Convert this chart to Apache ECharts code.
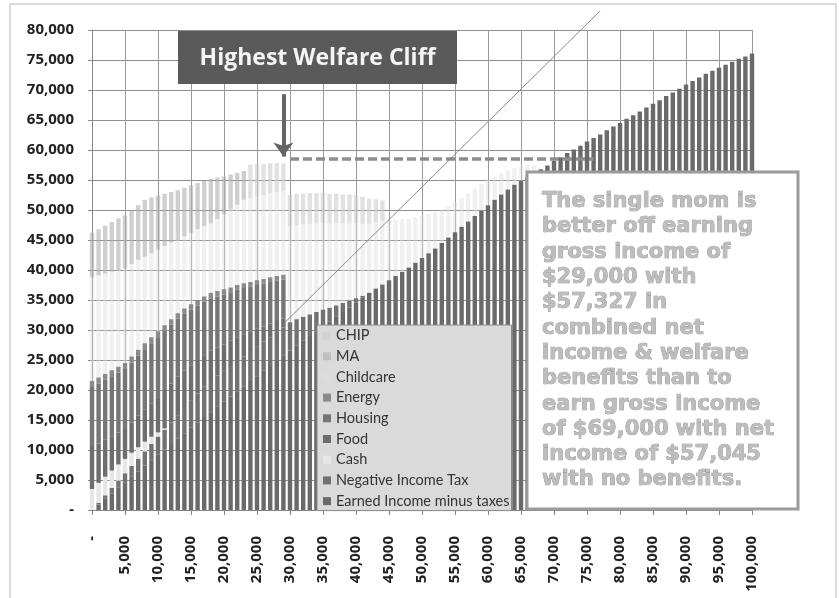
<!DOCTYPE html>
<html><head><meta charset="utf-8">
<script src="https://cdn.jsdelivr.net/npm/echarts@6/dist/echarts.min.js"></script>
<style>html,body{margin:0;padding:0;background:#fff}#c{width:839px;height:598px}</style>
</head><body><div id="c"></div>
<script>
// ---- data ----
const categories = ['-','1,000','2,000','3,000','4,000','5,000','6,000','7,000','8,000','9,000',
'10,000','11,000','12,000','13,000','14,000','15,000','16,000','17,000','18,000','19,000',
'20,000','21,000','22,000','23,000','24,000','25,000','26,000','27,000','28,000','29,000',
'30,000','31,000','32,000','33,000','34,000','35,000','36,000','37,000','38,000','39,000',
'40,000','41,000','42,000','43,000','44,000','45,000','46,000','47,000','48,000','49,000',
'50,000','51,000','52,000','53,000','54,000','55,000','56,000','57,000','58,000','59,000',
'60,000','61,000','62,000','63,000','64,000','65,000','66,000','67,000','68,000','69,000',
'70,000','71,000','72,000','73,000','74,000','75,000','76,000','77,000','78,000','79,000',
'80,000','81,000','82,000','83,000','84,000','85,000','86,000','87,000','88,000','89,000',
'90,000','91,000','92,000','93,000','94,000','95,000','96,000','97,000','98,000','99,000',
'100,000'];
const yTickLabels = ['-','5,000','10,000','15,000','20,000','25,000','30,000','35,000','40,000',
'45,000','50,000','55,000','60,000','65,000','70,000','75,000','80,000'];

const earnedIncome = [0,920,1850,2770,3690,4620,5540,6460,7390,8310,
9240,10100,11000,11900,12800,13700,14600,15500,16300,17200,
18100,18900,19800,20600,21500,22300,23200,24000,24900,25700,
26600,27400,28200,29000,29800,30600,31400,32200,33000,33800,
34600,35400,36200,36900,37600,38300,39000,39700,40400,41200,
42000,42800,43600,44500,45400,46300,47200,48100,49000,49900,
50800,51700,52600,53400,54200,54900,55600,56200,56800,57400,
58200,58800,59500,60100,60700,61400,62000,62600,63300,63900,
64500,65200,65800,66400,67100,67700,68300,69000,69600,70200,
70900,71500,72100,72700,73200,73700,74200,74700,75200,75600,
76100];
const negativeIncomeTax = [0,300,600,900,1200,1500,1800,2100,2400,2700,
3000,3300,3600,3900,4200,4500,4800,5100,5200,5200,
5200,5100,5100,5000,5000,4900,4900,4800,4800,4700,
4700,4400,4000,3600,3200,2800,2300,1900,1500,1100,
700,300,0,0,0,0,0,0,0,0,
0,0,0,0,0,0,0,0,0,0,
0,0,0,0,0,0,0,0,0,0,
0,0,0,0,0,0,0,0,0,0,
0,0,0,0,0,0,0,0,0,0,
0,0,0,0,0,0,0,0,0,0,
0];
const cash = [3500,3300,3100,2900,2700,2400,2200,1900,1600,1200,
700,200,0,0,0,0,0,0,0,0,
0,0,0,0,0,0,0,0,0,0,
0,0,0,0,0,0,0,0,0,0,
0,0,0,0,0,0,0,0,0,0,
0,0,0,0,0,0,0,0,0,0,
0,0,0,0,0,0,0,0,0,0,
0,0,0,0,0,0,0,0,0,0,
0,0,0,0,0,0,0,0,0,0,
0,0,0,0,0,0,0,0,0,0,
0];
const food = [7000,6580,6150,5730,5310,4980,5060,5240,5410,5590,
5860,6400,6500,6400,6200,5900,5600,5200,5100,4700,
4300,4200,3900,3700,3200,3000,2500,2300,1800,1500,
0,0,0,0,0,0,0,0,0,0,
0,0,0,0,0,0,0,0,0,0,
0,0,0,0,0,0,0,0,0,0,
0,0,0,0,0,0,0,0,0,0,
0,0,0,0,0,0,0,0,0,0,
0,0,0,0,0,0,0,0,0,0,
0,0,0,0,0,0,0,0,0,0,
0];
const housing = [10000,10000,10000,10000,10000,10000,10000,10000,10000,10000,
10000,9900,9800,9700,9500,9300,9100,8900,8700,8500,
8300,8100,7900,7700,7500,7300,7100,6900,6700,6500,
0,0,0,0,0,0,0,0,0,0,
0,0,0,0,0,0,0,0,0,0,
0,0,0,0,0,0,0,0,0,0,
0,0,0,0,0,0,0,0,0,0,
0,0,0,0,0,0,0,0,0,0,
0,0,0,0,0,0,0,0,0,0,
0,0,0,0,0,0,0,0,0,0,
0];
const energy = [1000,1000,1000,1000,1000,1000,1000,1000,1000,1000,
1000,900,900,900,900,900,900,900,900,900,
900,800,800,800,800,800,800,800,800,800,
0,0,0,0,0,0,0,0,0,0,
0,0,0,0,0,0,0,0,0,0,
0,0,0,0,0,0,0,0,0,0,
0,0,0,0,0,0,0,0,0,0,
0,0,0,0,0,0,0,0,0,0,
0,0,0,0,0,0,0,0,0,0,
0,0,0,0,0,0,0,0,0,0,
0];
const childcare = [17300,17000,16700,16400,16100,15800,15400,15000,14400,14000,
13600,13200,12800,12200,12000,11900,11800,11700,11600,12000,
12500,13000,13400,13900,14000,14000,14000,14000,14000,14000,
16000,15700,15400,15100,14800,14500,14100,13700,13300,12900,
12500,12000,11500,11000,10500,10000,9400,8800,8200,7600,
7000,6500,6000,5600,5200,5000,4800,4700,4600,4400,
4200,3900,3600,3200,2800,2400,2000,1200,0,0,
0,0,0,0,0,0,0,0,0,0,
0,0,0,0,0,0,0,0,0,0,
0,0,0,0,0,0,0,0,0,0,
0];
const ma = [7400,7700,8000,8300,8600,8800,8900,9100,9500,9300,
9000,8700,8400,8300,8100,7900,7700,7600,7400,6900,
6300,5800,5300,4800,0,0,0,0,0,0,
0,0,0,0,0,0,0,0,0,0,
0,0,0,0,0,0,0,0,0,0,
0,0,0,0,0,0,0,0,0,0,
0,0,0,0,0,0,0,0,0,0,
0,0,0,0,0,0,0,0,0,0,
0,0,0,0,0,0,0,0,0,0,
0,0,0,0,0,0,0,0,0,0,
0];
const chip = [0,0,0,0,0,0,0,0,0,0,
0,0,0,0,0,0,0,0,0,0,
0,0,0,0,5600,5400,5200,5000,4800,4600,
5200,5200,5100,5100,5000,5000,4900,4900,4800,4800,
4700,4500,4200,3900,3500,0,0,0,0,0,
0,0,0,0,0,0,0,0,0,0,
0,0,0,0,0,0,0,0,0,0,
0,0,0,0,0,0,0,0,0,0,
0,0,0,0,0,0,0,0,0,0,
0,0,0,0,0,0,0,0,0,0,
0];
// hand-drawn reference line (category index, value)
const refLine = [[29, 31000], [77, 83200]];
// annotation levels
const cliffArrow = {index: 29, from: 69300, to: 58900};
const cliffLevel = {fromIndex: 30, toIndex: 76, value: 58600};
const titleText = 'Highest Welfare Cliff';
const noteLines = ['The single mom is','better off earning','gross income of','$29,000 with',
'$57,327 in','combined net','income & welfare','benefits than to','earn gross income',
'of $69,000 with net','income of $57,045','with no benefits.'];

// ---- chart ----
const seriesDefs = [
  ['Earned Income minus taxes', earnedIncome, '#6a6a6a'],
  ['Negative Income Tax', negativeIncomeTax, '#727272'],
  ['Cash', cash, '#e6e6e6'],
  ['Food', food, '#6e6e6e'],
  ['Housing', housing, '#767676'],
  ['Energy', energy, '#8a8a8a'],
  ['Childcare', childcare, 'rgba(222,222,222,0.45)'],
  ['MA', ma, 'rgba(175,175,175,0.6)'],
  ['CHIP', chip, 'rgba(205,205,205,0.6)']
];
const series = seriesDefs.map(([name, data, color]) => ({
  name, type: 'bar', stack: 'total', data, barWidth: 4.4,
  itemStyle: {color}, emphasis: {disabled: true}
}));
series.push({
  name: 'ref', type: 'line', data: refLine, symbol: 'none', clip: false, z: 5,
  lineStyle: {color: '#8a8a8a', width: 1}, silent: true,
  markLine: {
    silent: true, symbol: ['none', 'none'], label: {show: false}, animation: false,
    data: [
      [{coord: [cliffArrow.index, cliffArrow.from], symbol: 'none',
        lineStyle: {color: '#656565', width: 4, type: 'solid'}},
       {coord: [cliffArrow.index, cliffArrow.to], symbol: 'arrow', symbolSize: [15, 14]}],
      [{coord: [cliffLevel.fromIndex, cliffLevel.value], symbol: 'none',
        lineStyle: {color: '#8d8d8d', width: 3.5, type: [9, 4]}},
       {coord: [cliffLevel.toIndex, cliffLevel.value], symbol: 'none'}]
    ]
  }
});

const chart = echarts.init(document.getElementById('c'));
chart.setOption({
  animation: false,
  backgroundColor: '#fff',
  grid: {left: 92, right: 87, top: 30, bottom: 88},
  legend: {
    data: ['CHIP','MA','Childcare','Energy','Housing','Food','Cash','Negative Income Tax','Earned Income minus taxes'],
    orient: 'vertical', left: 317, top: 325, itemWidth: 8, itemHeight: 8, itemGap: 3.7,
    icon: 'rect', padding: [2, 2, 1, 6], backgroundColor: '#dadada',
    borderColor: '#8a8a8a', borderWidth: 1, selectedMode: false,
    textStyle: {fontFamily: 'Lato', fontSize: 14.5, color: '#333', lineHeight: 17}
  },
  xAxis: {
    type: 'category', data: categories, boundaryGap: false,
    axisLine: {lineStyle: {color: '#888'}},
    axisTick: {interval: 4, length: 5, lineStyle: {color: '#888'}},
    axisLabel: {interval: 4, rotate: 90, margin: 26, fontFamily: 'Open Sans',
      fontWeight: 'bold', fontSize: 15, color: '#222'},
    splitLine: {show: true, interval: 4, lineStyle: {color: '#9a9a9a', width: 1}}
  },
  yAxis: {
    type: 'value', min: 0, max: 80000, interval: 5000,
    axisLine: {show: true, lineStyle: {color: '#888'}},
    axisTick: {show: true, length: 4, lineStyle: {color: '#888'}},
    axisLabel: {margin: 18, fontFamily: 'Open Sans', fontWeight: 'bold', fontSize: 15, color: '#222',
      formatter: v => yTickLabels[Math.round(v / 5000)]},
    splitLine: {lineStyle: {color: '#8f8f8f', width: 1}}
  },
  series,
  graphic: [
    {type: 'rect', z: 100, shape: {x: 10, y: 4, width: 826, height: 600},
     style: {fill: 'none', stroke: '#b5b5b5', lineWidth: 1}, silent: true},
    {type: 'rect', z: 100, shape: {x: 178, y: 31, width: 279, height: 53},
     style: {fill: '#5a5a5a'}, silent: true},
    {type: 'text', z: 101, x: 317.5, y: 58, silent: true,
     style: {text: titleText, font: 'bold 23px "Open Sans"', fill: '#f4f4f4',
       align: 'center', verticalAlign: 'middle'}},
    {type: 'rect', z: 100, shape: {x: 527, y: 172, width: 271, height: 337},
     style: {fill: '#fff', stroke: '#9a9a9a', lineWidth: 3}, silent: true},
    {type: 'text', z: 101, x: 542, y: 189, silent: true,
     style: {text: noteLines.join('\n'), font: 'bold 21px "DejaVu Sans"', fill: '#bdbdbd',
       stroke: '#8a8a8a', lineWidth: 0.7, lineHeight: 25.3, verticalAlign: 'top'}}
  ]
});
</script>
</body></html>
